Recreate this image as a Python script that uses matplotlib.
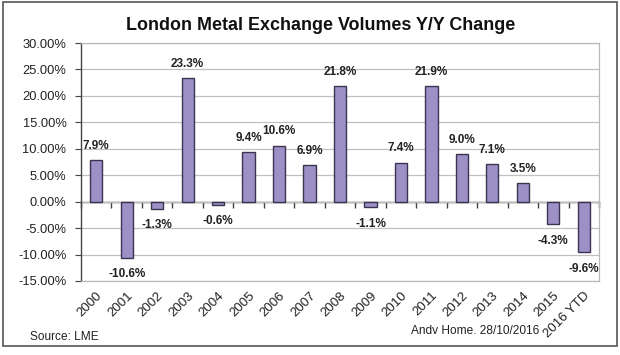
import matplotlib
matplotlib.use("Agg")
import matplotlib.pyplot as plt
from matplotlib.patches import Rectangle
import numpy as np

categories = ["2000", "2001", "2002", "2003", "2004", "2005", "2006", "2007", "2008",
              "2009", "2010", "2011", "2012", "2013", "2014", "2015", "2016 YTD"]
values = [7.9, -10.6, -1.3, 23.3, -0.6, 9.4, 10.6, 6.9, 21.8,
          -1.1, 7.4, 21.9, 9.0, 7.1, 3.5, -4.3, -9.6]
y_ticks = [-15, -10, -5, 0, 5, 10, 15, 20, 25, 30]

plt.rcParams['font.family'] = ['Liberation Sans', 'DejaVu Sans']

W, H = 620, 355
fig = plt.figure(figsize=(W / 100, H / 100), dpi=100)
fig.patch.set_facecolor('white')

# outer chart border
fig.patches.append(Rectangle((3 / W, 1 - 346 / H), 614 / W, 344 / H,
                             transform=fig.transFigure, fill=False,
                             edgecolor='#555555', linewidth=1.2))

ax = fig.add_axes([81 / W, 1 - 281 / H, 518 / W, 238 / H])
x = np.arange(len(categories))
ax.bar(x, values, width=0.4, color='#9c90c6', edgecolor='#3b3450', linewidth=1.0, zorder=3)

ax.set_xlim(-0.5, len(categories) - 0.5)
ax.set_ylim(y_ticks[0], y_ticks[-1])
ax.set_yticks(y_ticks)
ax.set_yticklabels([f"{v:.2f}%" for v in y_ticks], fontsize=9.3, color='#222222')
ax.yaxis.grid(True, color='#c0c0c0', linewidth=0.9, zorder=0)
ax.set_axisbelow(True)

ax.set_xticks(x)
ax.set_xticklabels(categories, rotation=45, ha='right', va='top',
                   rotation_mode='anchor', fontsize=9.5, color='#222222')
ax.tick_params(axis='x', length=0, pad=6)
ax.tick_params(axis='y', length=4, direction='out', color='#444444', pad=6.5)

for s in ['top', 'right', 'bottom']:
    ax.spines[s].set_color('#b8b8b8')
    ax.spines[s].set_linewidth(0.9)
ax.spines['left'].set_color('#444444')
ax.spines['left'].set_linewidth(1.0)

# zero axis line with category-boundary tick marks
sec = ax.secondary_xaxis(0, transform=ax.transData)
sec.set_xticks(np.arange(len(categories) + 1) - 0.5)
sec.set_xticklabels([])
sec.tick_params(length=4, direction='out', color='#444444', width=1.0)
sec.spines['bottom'].set_color('#444444')
sec.spines['bottom'].set_linewidth(1.0)

for xi, v in zip(x, values):
    if v >= 0:
        ax.annotate(f"{v:.1f}%", (xi, v), xytext=(0, 6), textcoords='offset points',
                    ha='center', va='bottom', fontsize=8.5, fontweight='bold', color='#222222')
    else:
        ax.annotate(f"{v:.1f}%", (xi, v), xytext=(0, -7.5), textcoords='offset points',
                    ha='center', va='top', fontsize=8.5, fontweight='bold', color='#222222')

fig.text(321 / W, 1 - 25 / H, "London Metal Exchange Volumes Y/Y Change",
         ha='center', va='center', fontsize=12.9, fontweight='bold', color='#111111')
fig.text(30 / W, 1 - 337 / H, "Source: LME", ha='left', va='center', fontsize=8.6, color='#222222')
fig.text(411 / W, 1 - 331 / H, "Andv Home. 28/10/2016", ha='left', va='center',
         fontsize=8.6, color='#222222')

fig.savefig("out.png", dpi=100, facecolor='white')
